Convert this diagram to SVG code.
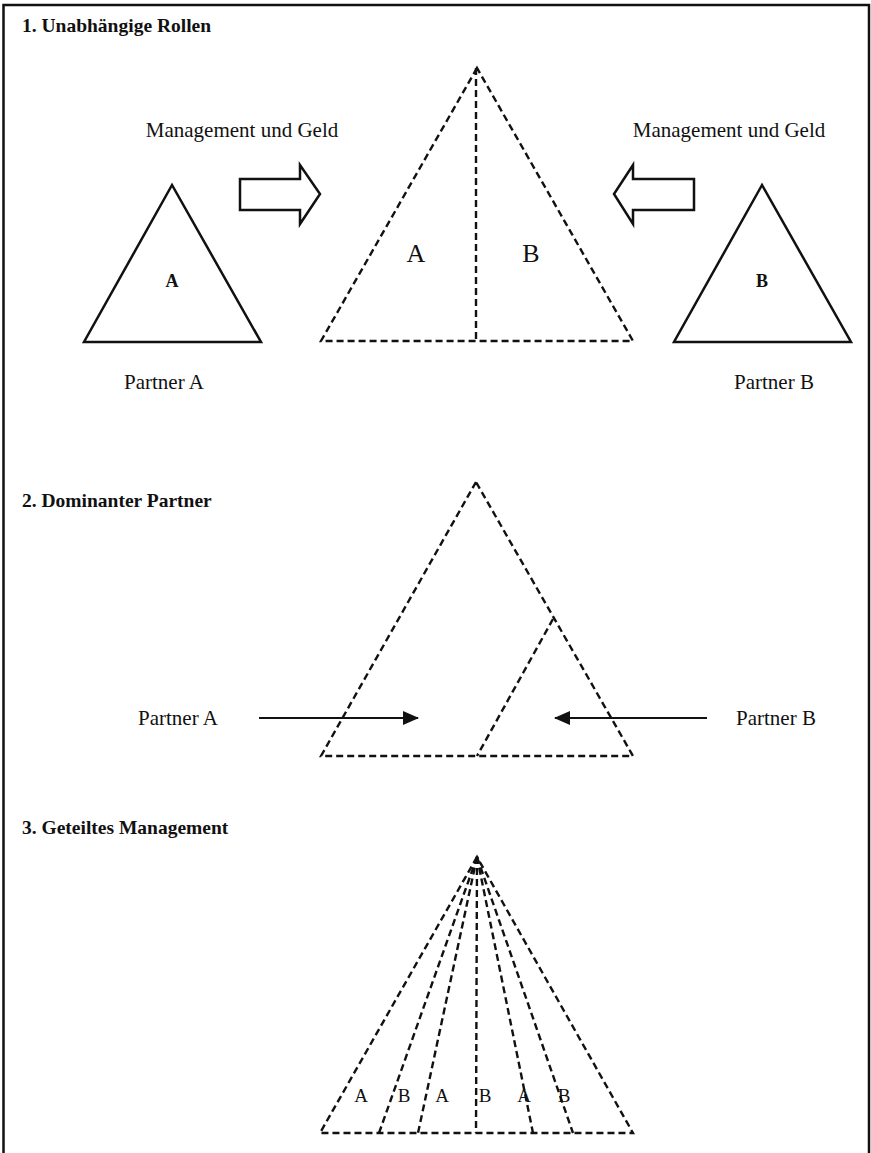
<svg xmlns="http://www.w3.org/2000/svg" width="871" height="1153" viewBox="0 0 871 1153">
<style>
  text { font-family: "Liberation Serif", "Times New Roman", serif; fill: #111; }
  .h { font-weight: bold; font-size: 19.5px; }
  .t { font-size: 21px; }
  .lbl { font-weight: bold; font-size: 18px; }
  .big { font-size: 26px; }
  .fan { font-size: 19px; }
  .solid { fill: none; stroke: #111; stroke-width: 2.5; stroke-linejoin: miter; }
  .dash { fill: none; stroke: #111; stroke-width: 2.4; stroke-dasharray: 7 4; }
  .arr { stroke: #111; stroke-width: 2.2; fill: none; }
</style>
<defs>
  <marker id="ah" viewBox="0 0 16 14" refX="15" refY="7" markerWidth="16" markerHeight="14" markerUnits="userSpaceOnUse" orient="auto">
    <path d="M0,0 L16,7 L0,14 Z" fill="#111"/>
  </marker>
</defs>
<rect width="871" height="1153" fill="#fff"/>
<path d="M3.5,1153 V5 H869 V1153" fill="none" stroke="#111" stroke-width="2.5"/>

<g id="section1">
  <text class="h" x="22" y="32">1. Unabhängige Rollen</text>
  <g id="partnerA1">
    <polygon class="solid" points="172,185 84,342 261,342"/>
    <text class="lbl" x="172" y="287" text-anchor="middle">A</text>
    <text class="t" x="164" y="389" text-anchor="middle">Partner A</text>
  </g>
  <g id="partnerB1">
    <polygon class="solid" points="762,185 674,342 851,342"/>
    <text class="lbl" x="762" y="287" text-anchor="middle">B</text>
    <text class="t" x="774" y="389" text-anchor="middle">Partner B</text>
  </g>
  <g id="jointventure1">
    <polygon class="dash" points="477,68 321,341 633,341"/>
    <line class="dash" x1="476" y1="68" x2="476" y2="341"/>
    <text class="big" x="416" y="262" text-anchor="middle">A</text>
    <text class="big" x="531" y="262" text-anchor="middle">B</text>
  </g>
  <g id="labelsMG">
    <text class="t" x="242" y="137" text-anchor="middle">Management und Geld</text>
    <text class="t" x="729" y="137" text-anchor="middle">Management und Geld</text>
  </g>
</g>

<g id="section2">
  <text class="h" x="22" y="507">2. Dominanter Partner</text>
  <g id="jointventure2">
    <polygon class="dash" points="476,482 321,756 633,756"/>
    <line class="dash" x1="553" y1="619" x2="477" y2="756"/>
  </g>
  <text class="t" x="178" y="725" text-anchor="middle">Partner A</text>
  <text class="t" x="776" y="725" text-anchor="middle">Partner B</text>
</g>

<g id="section3">
  <text class="h" x="22" y="834">3. Geteiltes Management</text>
  <g id="jointventure3">
    <polygon class="dash" points="477,857 320,1133 633,1133"/>
    <line class="dash" x1="477" y1="857" x2="379" y2="1133"/>
    <line class="dash" x1="477" y1="857" x2="418" y2="1133"/>
    <line class="dash" x1="477" y1="857" x2="476" y2="1133"/>
    <line class="dash" x1="477" y1="857" x2="533" y2="1133"/>
    <line class="dash" x1="477" y1="857" x2="573" y2="1133"/>
    <text class="fan" x="361" y="1102" text-anchor="middle">A</text>
    <text class="fan" x="404" y="1102" text-anchor="middle">B</text>
    <text class="fan" x="442" y="1102" text-anchor="middle">A</text>
    <text class="fan" x="485" y="1102" text-anchor="middle">B</text>
    <text class="fan" x="524" y="1102" text-anchor="middle">A</text>
    <text class="fan" x="564" y="1102" text-anchor="middle">B</text>
  </g>
</g>

<g id="connectors">
  <polygon class="solid" points="240,179 300,179 300,165 320,194 300,224 300,210 240,210"/>
  <polygon class="solid" points="694,179 633,179 633,165 614,194 633,224 633,210 694,210"/>
  <line class="arr" x1="259" y1="718" x2="418" y2="718" marker-end="url(#ah)"/>
  <line class="arr" x1="707" y1="718" x2="555" y2="718" marker-end="url(#ah)"/>
</g>
</svg>
